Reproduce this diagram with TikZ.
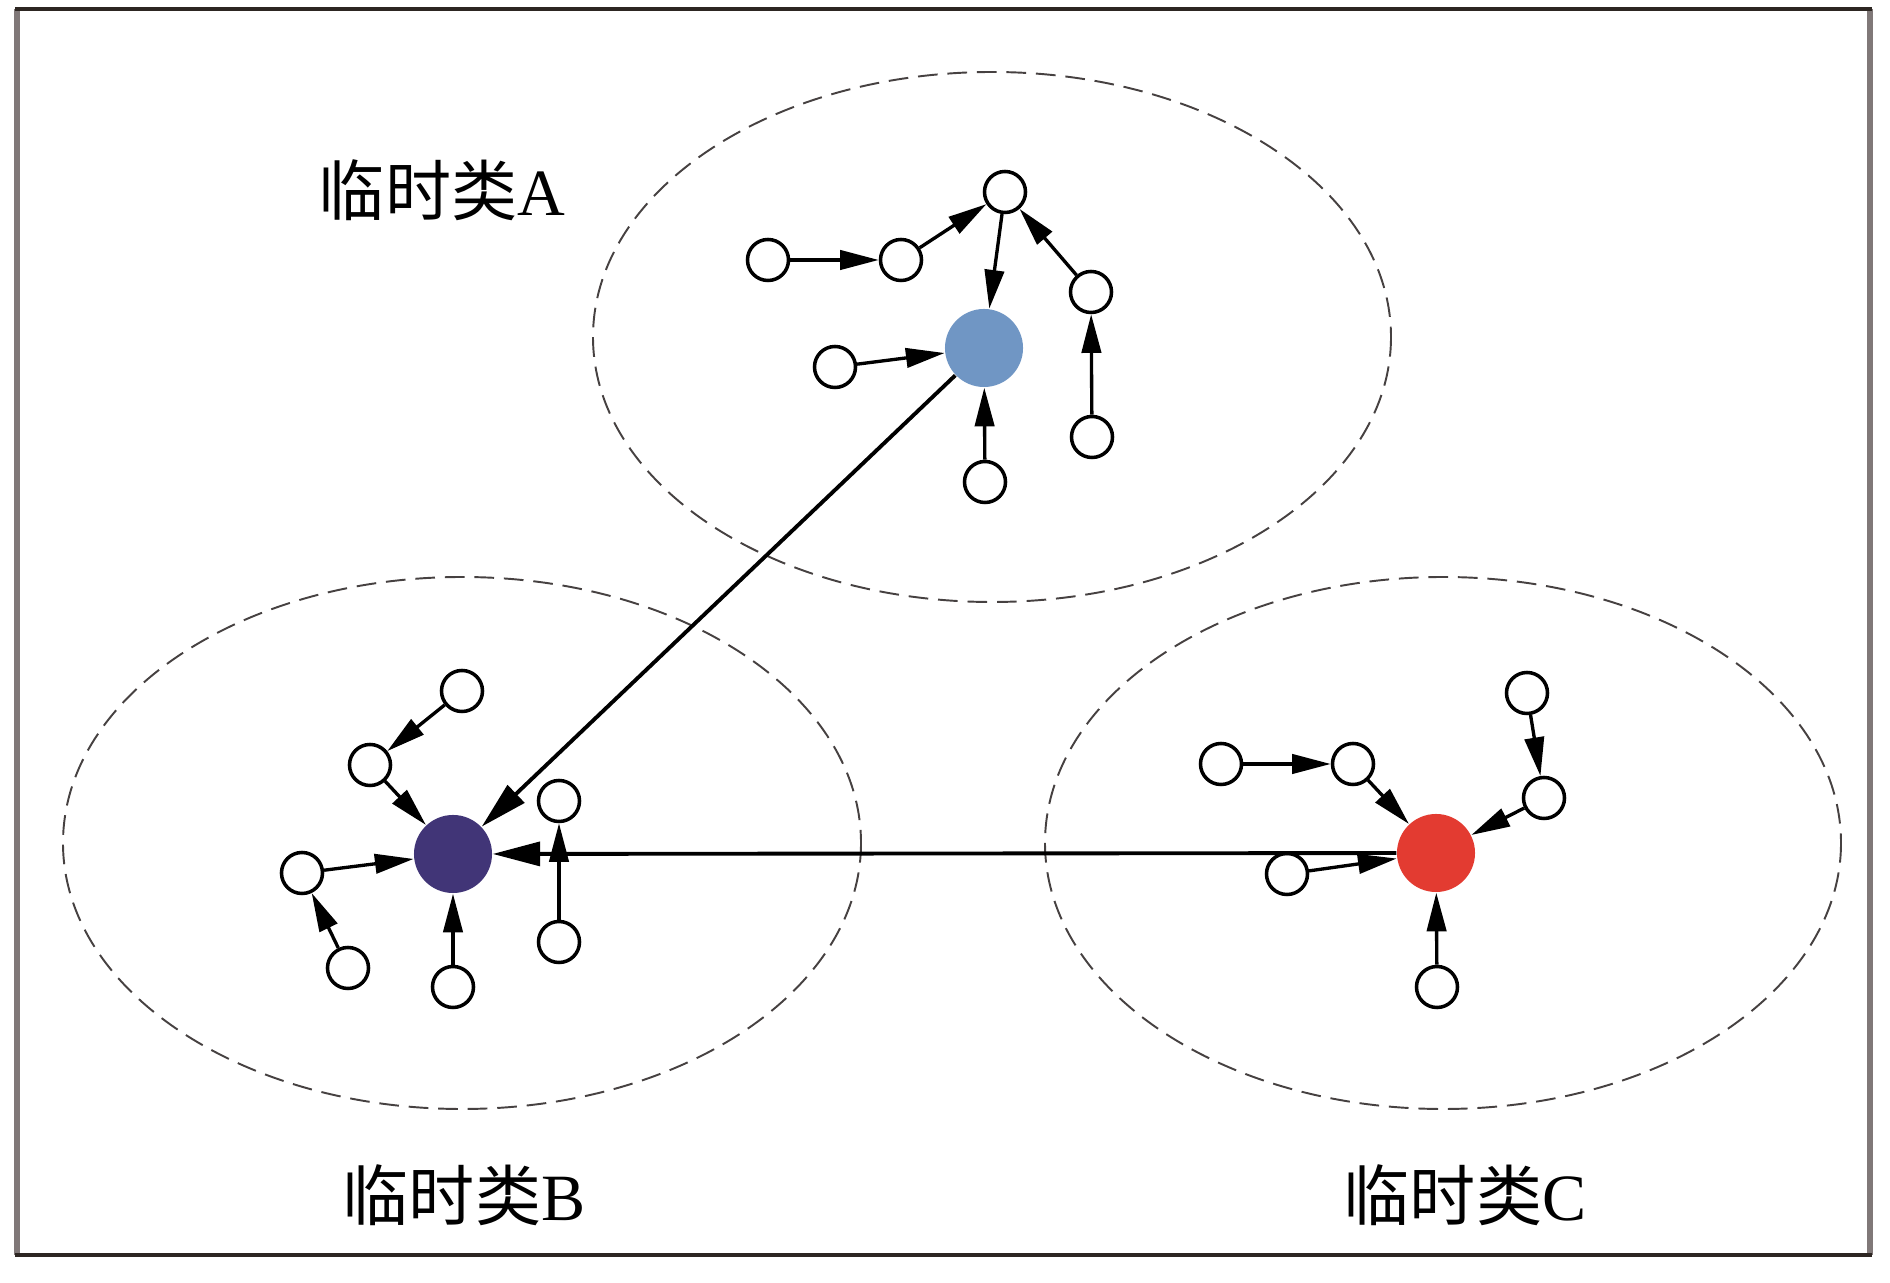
\documentclass[tikz,border=0pt]{standalone}
\usepackage{fontspec}
\setmainfont{Liberation Serif}
\newfontfamily\cjk{Noto Sans CJK SC}
\usetikzlibrary{arrows.meta}
\definecolor{cblue}{RGB}{112,150,196}
\definecolor{cpurple}{RGB}{65,53,119}
\definecolor{cred}{RGB}{227,59,49}
\definecolor{framedark}{RGB}{45,38,34}
\definecolor{framegray}{RGB}{128,120,120}
\definecolor{dashgray}{RGB}{70,65,65}
\tikzset{
  leaf/.style={circle,draw=black,fill=white,line width=1pt,minimum size=0.41cm,inner sep=0pt},
  hub/.style={circle,minimum size=0.78cm,inner sep=0pt},
  small/.style={line width=0.95pt,-{Triangle[length=11pt,width=5.5pt]}},
  big/.style={line width=1.1pt,-{Triangle[length=13.5pt,width=6.8pt]}},
  cluster/.style={draw=dashgray,line width=0.55pt,dash pattern=on 5.6pt off 2.8pt},
  lbl/.style={inner sep=0pt,font=\fontsize{18.8}{20}\selectfont}
}
\begin{document}
\begin{tikzpicture}[x=0.01cm,y=-0.01cm]
\useasboundingbox (0,0) rectangle (1890,1283);
% frame
\draw[framegray,line width=1.6pt] (17,9) -- (17,1255);
\draw[framegray,line width=1.6pt] (1870,9) -- (1870,1255);
\draw[framedark,line width=1.1pt] (15,9) -- (1872,9);
\draw[framedark,line width=1.1pt] (15,1255) -- (1872,1255);
% clusters
\draw[cluster] (992,337) ellipse [x radius=399, y radius=265];
\draw[cluster] (462,843) ellipse [x radius=399, y radius=266];
\draw[cluster] (1443,843) ellipse [x radius=398, y radius=266];
% labels
\node[lbl] (labA) at (442,190) {{\cjk 临时类}A};
\node[lbl] (labB) at (464,1195) {{\cjk 临时类}B};
\node[lbl] (labC) at (1465,1195) {{\cjk 临时类}C};
% hubs
\node[hub,fill=cblue] (HA) at (984,348) {};
\node[hub,fill=cpurple] (HB) at (453,854) {};
\node[hub,fill=cred] (HC) at (1436,853) {};
% cluster A leaves
\node[leaf] (T) at (1005,192) {};
\node[leaf] (L1) at (768,260) {};
\node[leaf] (L2) at (901,260) {};
\node[leaf] (L3) at (835,367) {};
\node[leaf] (R1) at (1091,292) {};
\node[leaf] (R2) at (1092,437) {};
\node[leaf] (AB) at (985,482) {};
% cluster B leaves
\node[leaf] (B1) at (462,691) {};
\node[leaf] (B2) at (370,765) {};
\node[leaf] (B3) at (302,873) {};
\node[leaf] (B4) at (348,968) {};
\node[leaf] (B5) at (453,987) {};
\node[leaf] (B6) at (559,801) {};
\node[leaf] (B7) at (559,942) {};
% cluster C leaves
\node[leaf] (C1) at (1221,764) {};
\node[leaf] (C2) at (1353,764) {};
\node[leaf] (C3) at (1527,693) {};
\node[leaf] (C4) at (1544,798) {};
\node[leaf] (C5) at (1287,874) {};
\node[leaf] (C6) at (1437,987) {};
% long connectors
\draw[big] (HA) -- (HB);
\draw[big] (HC) -- (HB);
% cluster A arrows
\draw[small] (L1) -- (L2);
\draw[small] (L2) -- (T);
\draw[small] (T) -- (HA);
\draw[small] (R1) -- (T);
\draw[small] (R2) -- (R1);
\draw[small] (L3) -- (HA);
\draw[small] (AB) -- (HA);
% cluster B arrows
\draw[small] (B1) -- (B2);
\draw[small] (B2) -- (HB);
\draw[small] (B3) -- (HB);
\draw[small] (B4) -- (B3);
\draw[small] (B5) -- (HB);
\draw[small] (B7) -- (B6);
% cluster C arrows
\draw[small] (C1) -- (C2);
\draw[small] (C2) -- (HC);
\draw[small] (C3) -- (C4);
\draw[small] (C4) -- (HC);
\draw[small] (C5) -- (HC);
\draw[small] (C6) -- (HC);
\end{tikzpicture}
\end{document}
